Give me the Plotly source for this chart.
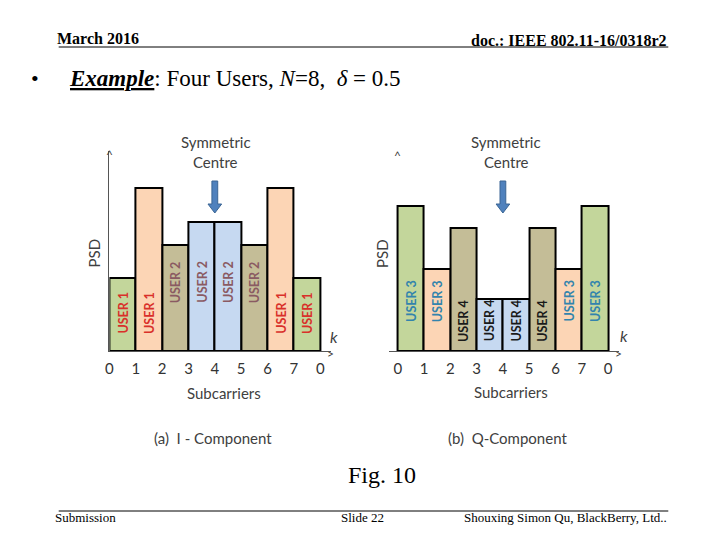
import plotly.graph_objects as go

W, H = 720, 540

# ---------------- data ----------------
subcarriers = [0, 1, 2, 3, 4, 5, 6, 7]
tick_positions = [0, 1, 2, 3, 4, 5, 6, 7, 8]
tick_labels = ["0", "1", "2", "3", "4", "5", "6", "7", "0"]

i_psd = [0.73, 1.63, 1.06, 1.29, 1.29, 1.06, 1.63, 0.73]
i_users = ["USER 1", "USER 1", "USER 2", "USER 2", "USER 2", "USER 2", "USER 1", "USER 1"]

q_psd = [1.45, 0.82, 1.23, 0.52, 0.52, 1.23, 0.82, 1.45]
q_users = ["USER 3", "USER 3", "USER 4", "USER 4", "USER 4", "USER 4", "USER 3", "USER 3"]

bar_fills = ["#C3D69B", "#FCD5B5", "#C4BD97", "#C6D9F1", "#C6D9F1", "#C4BD97", "#FCD5B5", "#C3D69B"]
user_text_color = {"USER 1": "#D9302A", "USER 2": "#8A5A62", "USER 3": "#3384AD", "USER 4": "#1A1A1A"}
user_label_level = {"USER 1": 0.38, "USER 2": 0.69, "USER 3": 0.50, "USER 4": 0.305}

centre_k = 4


def px(x):
    return x / W


def py(y):
    return 1 - y / H


SANS = "Lato"
SERIF = "Liberation Serif"
GREY = "#404040"

fig = go.Figure()

for psd, users, xa, ya in [(i_psd, i_users, "x", "y"), (q_psd, q_users, "x2", "y2")]:
    fig.add_trace(go.Bar(
        x=subcarriers, y=psd, width=1, offset=0,
        marker=dict(color=bar_fills, line=dict(color="black", width=2)),
        xaxis=xa, yaxis=ya, showlegend=False, hoverinfo="skip",
    ))

annotations = []
# bar labels
for psd, users, xa, ya in [(i_psd, i_users, "x", "y"), (q_psd, q_users, "x2", "y2")]:
    for k, u in zip(subcarriers, users):
        annotations.append(dict(
            x=k + 0.5, y=user_label_level[u], xref=xa, yref=ya, text="<b>" + u + "</b>",
            textangle=-90, showarrow=False, xanchor="center", yanchor="middle",
            font=dict(family=SANS, size=12.5, color=user_text_color[u]),
        ))

shapes = []
# symmetric centre arrows
for xa, ya in [("x", "y"), ("x2", "y2")]:
    c = centre_k
    path = (f"M {c-0.11},1.70 L {c+0.11},1.70 L {c+0.11},1.47 L {c+0.26},1.47 "
            f"L {c},1.38 L {c-0.26},1.47 L {c-0.11},1.47 Z")
    shapes.append(dict(type="path", path=path, xref=xa, yref=ya,
                       fillcolor="#4F81BD", line=dict(color="#3A6594", width=1)))

# header / footer rules
shapes.append(dict(type="line", xref="paper", yref="paper", x0=px(55), x1=px(668), y0=py(47), y1=py(47),
                   line=dict(color="black", width=1)))
shapes.append(dict(type="line", xref="paper", yref="paper", x0=px(55), x1=px(668), y0=py(511), y1=py(511),
                   line=dict(color="black", width=1)))


def txt(x, y, text, size, family=SANS, color=GREY, xanchor="center", angle=0):
    annotations.append(dict(x=px(x), y=py(y), xref="paper", yref="paper", text=text, showarrow=False,
                            xanchor=xanchor, yanchor="middle", textangle=angle,
                            font=dict(family=family, size=size, color=color)))


# header
txt(51, 39, "<b>March 2016</b>", 16, SERIF, "black", "left")
txt(669, 40, "<b>doc.: IEEE 802.11-16/0318r2</b>", 16, SERIF, "black", "right")
txt(31, 79, "•", 22, SERIF, "black")
txt(63, 79, "<b><i><u>Example</u></i></b>: Four Users, <i>N</i>=8,  <i>δ</i> = 0.5", 23, SERIF, "black", "left")

# chart decorations
for cx in (213, 505):
    txt(cx, 142, "Symmetric", 15)
    txt(cx, 162, "Centre", 15)
txt(90, 253, "PSD", 15, angle=-90)
txt(380, 253, "PSD", 15, angle=-90)
txt(106, 154, "^", 12)
txt(396, 156, "^", 12)
txt(328, 353, ">", 12)
txt(618, 353, ">", 12)
txt(332, 336, "<i>k</i>", 16)
txt(623, 335, "<i>k</i>", 16)
txt(221, 393, "Subcarriers", 15)
txt(510, 392, "Subcarriers", 15)
txt(210, 438, "(a)  I - Component", 15)
txt(506, 438, "(b)  Q-Component", 15)
txt(380, 475, "Fig. 10", 24, SERIF, "black")

# footer
txt(49, 517, "Submission", 13, SERIF, "black", "left")
txt(361, 517, "Slide 22", 13, SERIF, "black")
txt(669, 517, "Shouxing Simon Qu, BlackBerry, Ltd..", 13, SERIF, "black", "right")

axis_common = dict(
    tickmode="array", tickvals=tick_positions, ticktext=tick_labels,
    ticks="outside", ticklen=4, tickcolor="rgba(0,0,0,0)",
    tickfont=dict(family=SANS, size=15, color="#333333"),
    showgrid=False, zeroline=False, fixedrange=True,
)
yd = [py(351), py(151)]

fig.update_layout(
    width=W, height=H, margin=dict(l=0, r=0, t=0, b=0),
    paper_bgcolor="white", plot_bgcolor="rgba(0,0,0,0)",
    bargap=0, showlegend=False,
    xaxis=dict(domain=[px(106), px(328.6)], range=[0, 8.4], showline=True, linecolor="#555555",
               linewidth=1, anchor="y", **axis_common),
    yaxis=dict(domain=yd, range=[0, 2.0], showline=True, linecolor="#555555", linewidth=1,
               showticklabels=False, showgrid=False, zeroline=False, anchor="x", fixedrange=True),
    xaxis2=dict(domain=[px(386.7), px(618)], range=[-0.35, 8.4], showline=True, linecolor="#555555",
                linewidth=1, anchor="y2", **axis_common),
    yaxis2=dict(domain=yd, range=[0, 2.0], showline=False, showticklabels=False, showgrid=False,
                zeroline=False, anchor="x2", fixedrange=True),
    annotations=annotations, shapes=shapes,
)

fig.write_html("out.html", config={"displayModeBar": False},
               post_script="document.body.style.margin='0';document.body.style.overflow='hidden';")
